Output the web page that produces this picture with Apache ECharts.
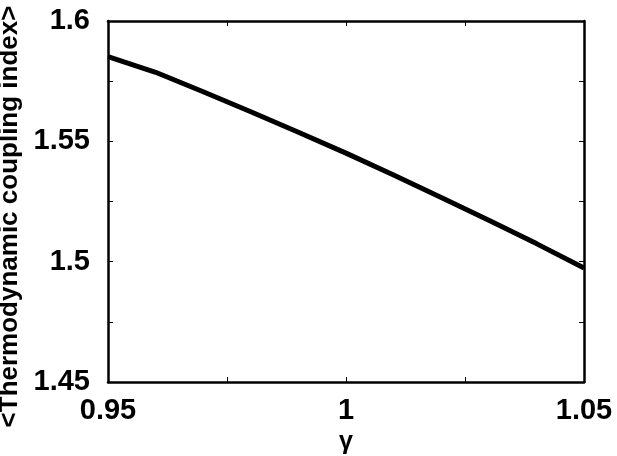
<!DOCTYPE html>
<html>
<head>
<meta charset="utf-8">
<script src="https://cdn.jsdelivr.net/npm/echarts@6/dist/echarts.min.js"></script>
<style>
  html, body { margin: 0; padding: 0; background: #fff; }
  #chart { width: 617px; height: 456px; }
</style>
</head>
<body>
<div id="chart"></div>
<script>
// values
const gamma = [0.95, 0.96, 0.97, 0.98, 0.99, 1.00, 1.01, 1.02, 1.03, 1.04, 1.05];
const couplingIndex = [1.5852, 1.5787, 1.5706, 1.5623, 1.5538, 1.5451, 1.5360, 1.5267, 1.5172, 1.5075, 1.4974];
const xTicks = [0.95, 1, 1.05];
const yTicks = [1.45, 1.5, 1.55, 1.6];

const font = '"Liberation Sans", Arial, sans-serif';
const tickLabel = v => {
  if(xTicks.includes(+v.toFixed(3)) || yTicks.includes(+v.toFixed(3))) return String(+v.toFixed(3));
  return '';
};

function frameAxis(extra){
  return Object.assign({
    type: 'value',
    axisLine: { show: true, lineStyle: { color: '#000', width: 2.5 } },
    axisTick: { show: true, inside: true, length: 5, lineStyle: { color: '#000', width: 1 } },
    minorTick: { show: true, splitNumber: 2, length: 5, lineStyle: { color: '#000', width: 1 } },
    splitLine: { show: false },
    axisLabel: { show: false }
  }, extra);
}

const chart = echarts.init(document.getElementById('chart'));
chart.setOption({
  backgroundColor: '#fff',
  animation: false,
  grid: { left: 108, right: 33, top: 21, bottom: 74, containLabel: false, outerBoundsMode: 'none' },
  xAxis: [
    frameAxis({
      min: 0.95, max: 1.05, interval: 0.05,
      name: 'γ', nameLocation: 'middle', nameGap: 48,
      nameTextStyle: { color: '#000', fontFamily: font, fontWeight: 'bold', fontSize: 25 },
      axisLabel: { show: true, margin: 14, color: '#000', fontFamily: font, fontWeight: 'bold', fontSize: 29, formatter: tickLabel }
    }),
    frameAxis({ min: 0.95, max: 1.05, interval: 0.05, position: 'top' })
  ],
  yAxis: [
    frameAxis({
      min: 1.45, max: 1.6, interval: 0.05,
      name: '<Thermodynamic coupling index>', nameLocation: 'middle', nameGap: 82,
      nameTextStyle: { color: '#000', fontFamily: font, fontWeight: 'bold', fontSize: 26, padding: [0, 30, 0, 0] },
      axisLabel: { show: true, margin: 18, color: '#000', fontFamily: font, fontWeight: 'bold', fontSize: 29, formatter: tickLabel }
    }),
    frameAxis({ min: 1.45, max: 1.6, interval: 0.05, position: 'right' })
  ],
  series: [{
    type: 'line',
    data: gamma.map((g, i) => [g, couplingIndex[i]]),
    showSymbol: false,
    smooth: false,
    lineStyle: { color: '#000', width: 5 }
  }]
});
</script>
</body>
</html>
